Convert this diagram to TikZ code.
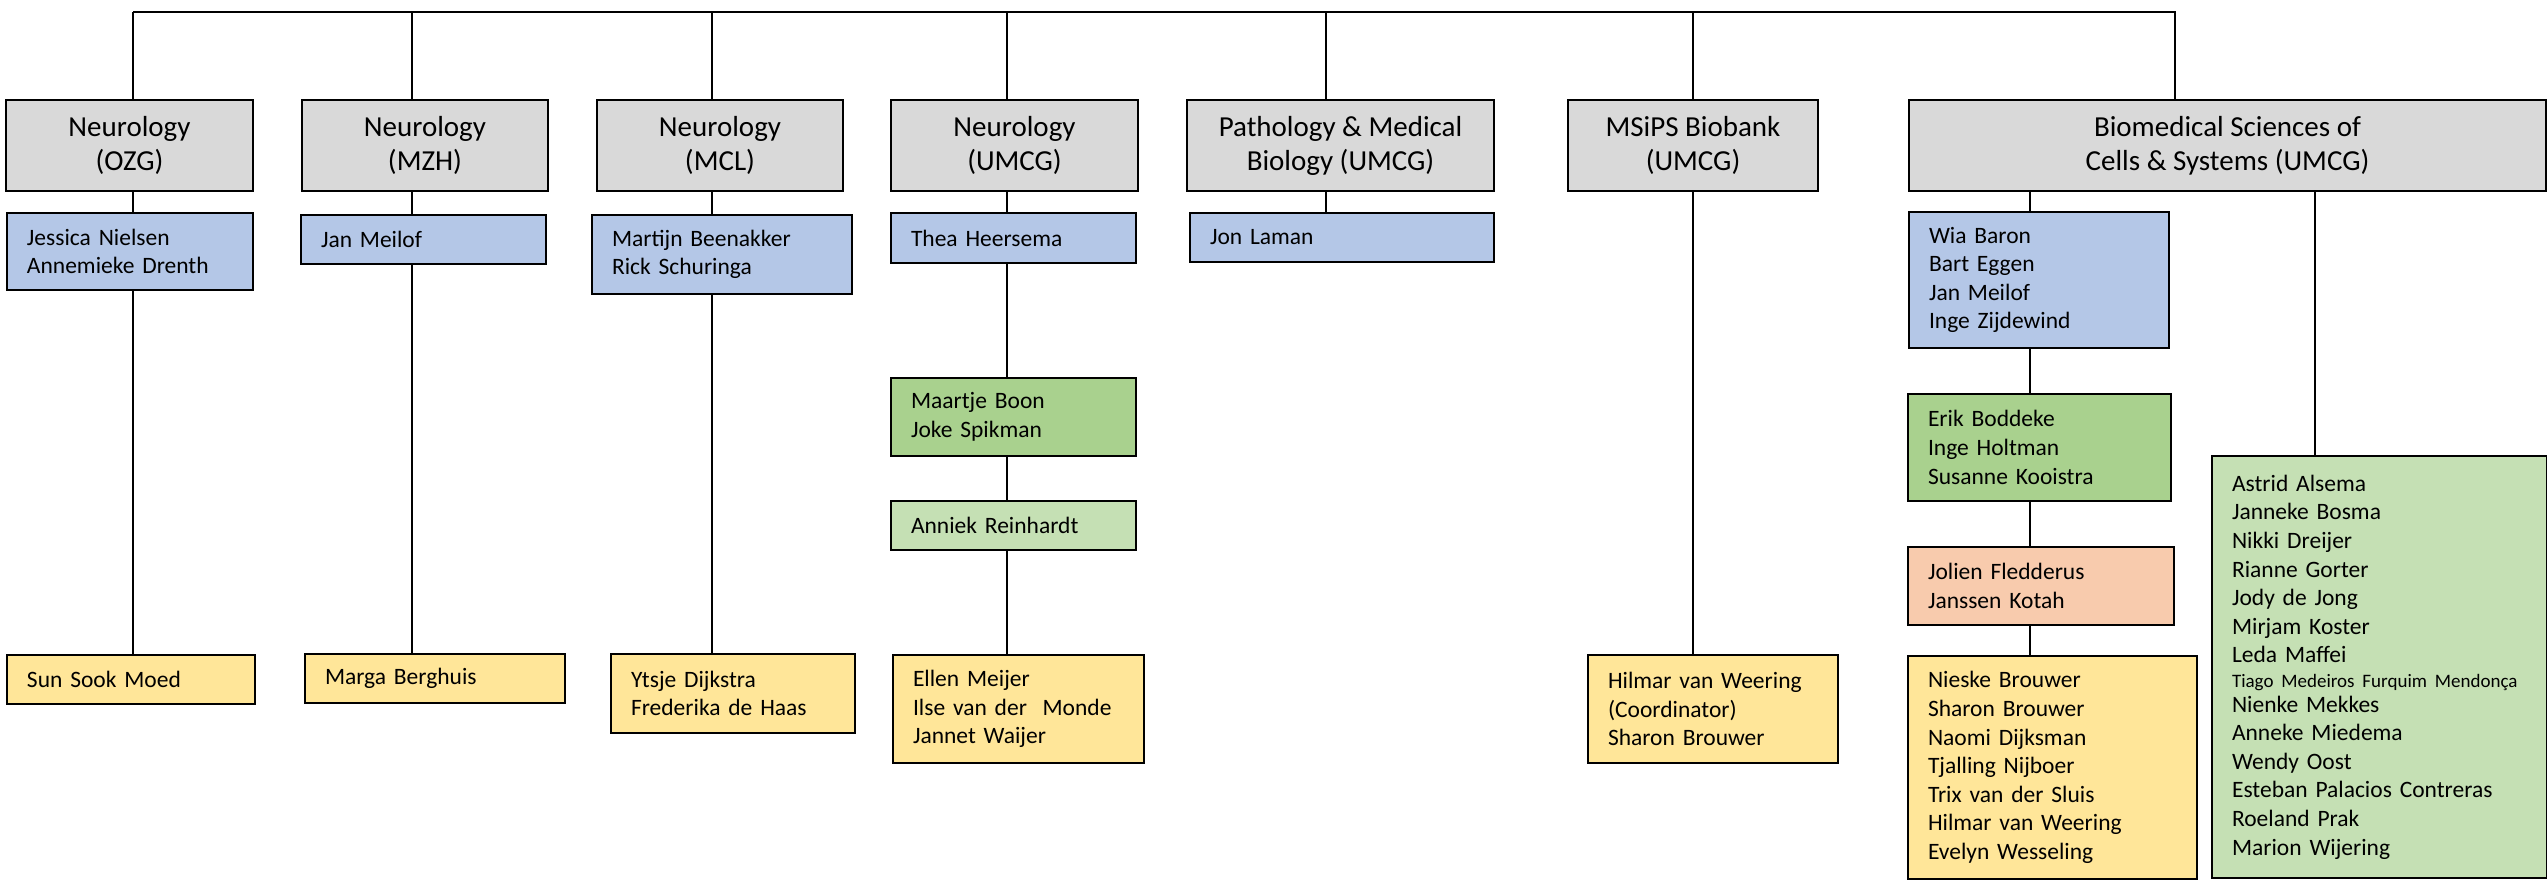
\documentclass[tikz,border=0pt]{standalone}
\usepackage{fontspec}
\setmainfont{Carlito}
\definecolor{boxgrey}{HTML}{D9D9D9}
\definecolor{boxblue}{HTML}{B4C7E7}
\definecolor{boxgreen}{HTML}{A9D18E}
\definecolor{boxlightgreen}{HTML}{C5E0B4}
\definecolor{boxsalmon}{HTML}{F8CBAD}
\definecolor{boxyellow}{HTML}{FFE699}

\begin{document}
\begin{tikzpicture}[x=1pt, y=-1pt,
    unit/.style={draw, line width=2pt, fill=boxgrey, anchor=north west, align=center,
      inner sep=0pt, minimum height=91pt, font=\fontsize{29}{34}\selectfont},
    staff/.style={draw, line width=2pt, anchor=north west, align=left,
      inner xsep=20pt, inner ysep=0pt, font=\fontsize{23.5}{28.6}\selectfont},
    link/.style={line width=1.3pt}]
  \useasboundingbox (0,0) rectangle (2547,880);

  \node[unit, minimum width=247pt] (ozg) at (5,99) {Neurology\\(OZG)};
  \node[unit, minimum width=246pt] (mzh) at (301,99) {Neurology\\(MZH)};
  \node[unit, minimum width=246pt] (mcl) at (596,99) {Neurology\\(MCL)};
  \node[unit, minimum width=247pt] (umcg) at (890,99) {Neurology\\(UMCG)};
  \node[unit, minimum width=307pt] (path) at (1186,99) {Pathology \& Medical\\Biology (UMCG)};
  \node[unit, minimum width=250pt] (msips) at (1567,99) {MSiPS Biobank\\(UMCG)};
  \node[unit, minimum width=637pt] (bio) at (1908,99) {Biomedical Sciences of\\Cells \& Systems (UMCG)};

  \node[staff, fill=boxblue, text width=206pt, minimum height=77pt] (ozgA) at (6,212) {Jessica Nielsen\\Annemieke Drenth};
  \node[staff, fill=boxblue, text width=205pt, minimum height=49pt] (mzhA) at (300,214) {Jan Meilof};
  \node[staff, fill=boxblue, text width=220pt, minimum height=79pt] (mclA) at (591,214) {Martijn Beenakker\\Rick Schuringa};
  \node[staff, fill=boxblue, text width=205pt, minimum height=50pt] (umcgA) at (890,212) {Thea Heersema};
  \node[staff, fill=boxblue, text width=264pt, minimum height=49pt] (pathA) at (1189,212) {Jon Laman};
  \node[staff, fill=boxblue, text width=220pt, minimum height=136pt] (bioA) at (1908,211) {Wia Baron\\Bart Eggen\\Jan Meilof\\Inge Zijdewind};

  \node[staff, fill=boxgreen, text width=205pt, minimum height=78pt] (umcgB) at (890,377) {Maartje Boon\\Joke Spikman};
  \node[staff, fill=boxgreen, text width=223pt, minimum height=107pt] (bioB) at (1907,393) {Erik Boddeke\\Inge Holtman\\Susanne Kooistra};
  \node[staff, fill=boxlightgreen, text width=205pt, minimum height=49pt] (umcgC) at (890,500) {Anniek Reinhardt};
  \node[staff, fill=boxsalmon, text width=226pt, minimum height=78pt] (bioC) at (1907,546) {Jolien Fledderus\\Janssen Kotah};

  \node[staff, fill=boxyellow, text width=208pt, minimum height=49pt] (ozgY) at (6,654) {Sun Sook Moed};
  \node[staff, fill=boxyellow, text width=220pt, minimum height=49pt] (mzhY) at (304,653) {Marga Berghuis};
  \node[staff, fill=boxyellow, text width=204pt, minimum height=79pt] (mclY) at (610,653) {Ytsje Dijkstra\\Frederika de Haas};
  \node[staff, fill=boxyellow, text width=211pt, minimum height=108pt] (umcgY) at (892,654) {Ellen Meijer\\Ilse van der\ \ Monde\\Jannet Waijer};
  \node[staff, fill=boxyellow, text width=210pt, minimum height=108pt] (msipsY) at (1587,654) {Hilmar van Weering\\(Coordinator)\\Sharon Brouwer};
  \node[staff, fill=boxyellow, text width=249pt, minimum height=223pt] (bioY) at (1907,655) {Nieske Brouwer\\Sharon Brouwer\\Naomi Dijksman\\Tjalling Nijboer\\Trix van der Sluis\\Hilmar van Weering\\Evelyn Wesseling};
  \node[staff, fill=boxlightgreen, text width=295pt, minimum height=422pt] (bioR) at (2211,455) {Astrid Alsema\\Janneke Bosma\\Nikki Dreijer\\Rianne Gorter\\Jody de Jong\\Mirjam Koster\\Leda Maffei\\[-4pt]{\fontsize{19}{23}\selectfont Tiago Medeiros Furquim Mendonça}\\[-4pt]Nienke Mekkes\\Anneke Miedema\\Wendy Oost\\Esteban Palacios Contreras\\Roeland Prak\\Marion Wijering};

  \coordinate (cOZG) at (133,12);
  \coordinate (cMZH) at (412,12);
  \coordinate (cMCL) at (712,12);
  \coordinate (cUMCG) at (1007,12);
  \coordinate (cPath) at (1326,12);
  \coordinate (cMSiPS) at (1693,12);
  \coordinate (cBio) at (2175,12);
  \coordinate (cBioA) at (2030,12);
  \coordinate (cBioR) at (2315,12);

  \draw[link] (cOZG) -- (cBio) -- (bio.north -| cBio);
  \foreach \g/\c in {ozg/cOZG, mzh/cMZH, mcl/cMCL, umcg/cUMCG, path/cPath, msips/cMSiPS}
    \draw[link] (\c) -- (\g.north -| \c);
  \foreach \a/\b/\c in {ozg/ozgA/cOZG, ozgA/ozgY/cOZG, mzh/mzhA/cMZH, mzhA/mzhY/cMZH,
      mcl/mclA/cMCL, mclA/mclY/cMCL, umcg/umcgA/cUMCG, umcgA/umcgB/cUMCG,
      umcgB/umcgC/cUMCG, umcgC/umcgY/cUMCG, path/pathA/cPath, msips/msipsY/cMSiPS,
      bio/bioA/cBioA, bioA/bioB/cBioA, bioB/bioC/cBioA, bioC/bioY/cBioA, bio/bioR/cBioR}
    \draw[link] (\a.south -| \c) -- (\b.north -| \c);
\end{tikzpicture}
\end{document}
